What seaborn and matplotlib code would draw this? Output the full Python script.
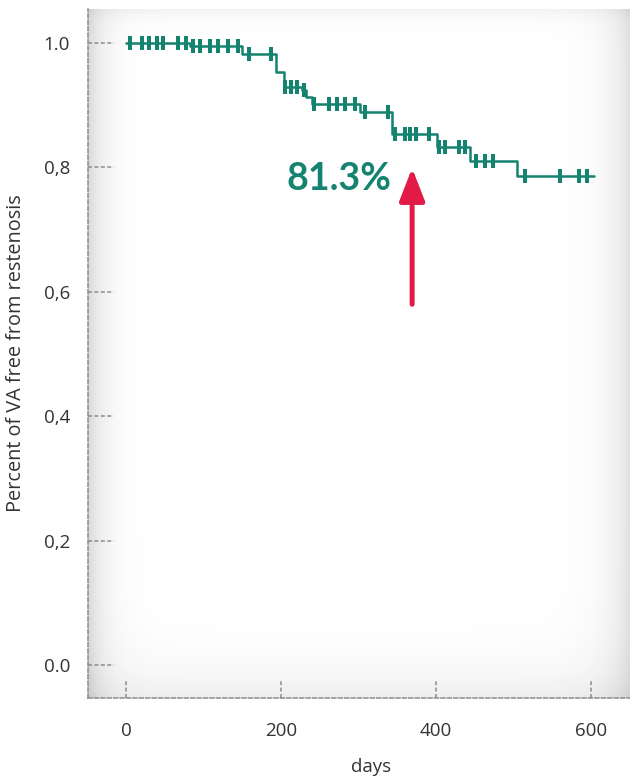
import numpy as np
import pandas as pd
import matplotlib
matplotlib.use("Agg")
import matplotlib.pyplot as plt
import matplotlib.transforms as mtransforms
import seaborn as sns

# Kaplan-Meier estimate: times where the survival level changes, and the level after each
event_days = [0, 82, 150, 194, 204, 227, 232, 240, 302, 343, 401, 444, 504, 603]
survival = [1.0, 0.995, 0.982, 0.953, 0.930, 0.924, 0.914, 0.902, 0.889, 0.854, 0.833, 0.810, 0.786, 0.786]

# censored observations (days)
censored_days = [5, 20, 30, 40, 48, 67, 78,
                 86, 95, 108, 119, 132, 145,
                 159, 187,
                 205, 213, 220, 230,
                 243, 262, 272, 283, 295,
                 308, 338,
                 347, 360, 366, 374, 391,
                 404, 412, 430, 437,
                 452, 463, 473,
                 515, 560, 584, 594]

y_ticks = [0.0, 0.2, 0.4, 0.6, 0.8, 1.0]
y_tick_labels = ["0.0", "0,2", "0,4", "0,6", "0,8", "1.0"]
x_ticks = [0, 200, 400, 600]
x_tick_labels = ["0", "200", "400", "600"]

highlight_day = 369
highlight_text = "81.3%"

TEAL = "#14836f"
RED = "#e11a48"
GRID = "#8c8c8c"
TEXT = "#333333"

sns.set_theme(style="white")
plt.rcParams["font.family"] = ["Open Sans", "DejaVu Sans"]

fig = plt.figure(figsize=(6.3, 7.78), dpi=100)
ax = fig.add_axes([88 / 630, 80 / 778, 542 / 630, 689 / 778])
ax.set_xlim(-49, 650)
ax.set_ylim(-0.053, 1.0547)

# soft grey vignette behind the plot area
H, W = 689, 542
yy, xx = np.mgrid[0:H, 0:W]
shade = (0.15 * np.exp(-xx / 16.0) + 0.12 * np.exp(-(W - 1 - xx) / 20.0)
         + 0.07 * np.exp(-(H - 1 - yy) / 30.0) + 0.05 * np.exp(-yy / 10.0))
img = np.clip(1 - shade, 0, 1)
ax.imshow(img, cmap="gray", vmin=0, vmax=1, extent=(0, 1, 0, 1),
          transform=ax.transAxes, aspect="auto", zorder=0, interpolation="bilinear")

km = pd.DataFrame({"days": event_days, "survival": survival})
sns.lineplot(data=km, x="days", y="survival", drawstyle="steps-post",
             estimator=None, sort=True, color=TEAL, linewidth=1.8, ax=ax, zorder=3)

idx = np.searchsorted(event_days, censored_days, side="right") - 1
cens = pd.DataFrame({"days": censored_days,
                     "survival": np.asarray(survival)[idx]})
sns.scatterplot(data=cens, x="days", y="survival", marker="|", s=115,
                linewidth=2.9, color=TEAL, ax=ax, zorder=4)

# highlighted estimate with arrow
ax.annotate("", xy=(highlight_day, 0.799), xytext=(highlight_day, 0.580),
            arrowprops=dict(arrowstyle="-|>,head_length=0.9,head_width=0.35",
                            color=RED, lw=3.6, mutation_scale=22,
                            shrinkA=0, shrinkB=0), zorder=5)
ax.text(275, 0.781, highlight_text, color=TEAL, fontsize=27, fontweight="bold",
        family=["Lato", "DejaVu Sans"], ha="center", va="center", zorder=5)

# dashed axis lines and inward dashed ticks
for side in ["top", "right"]:
    ax.spines[side].set_visible(False)
for side in ["left", "bottom"]:
    ax.spines[side].set_visible(True)
    ax.spines[side].set_color(GRID)
    ax.spines[side].set_linewidth(1.1)
    ax.spines[side].set_linestyle((0, (2.6, 1.6)))
    ax.spines[side].set_zorder(6)

ytr = mtransforms.blended_transform_factory(ax.transAxes, ax.transData)
for t in y_ticks:
    ax.plot([0, 26 / W], [t, t], transform=ytr, color=GRID, lw=1.1,
            ls=(0, (2.6, 1.6)), zorder=2, clip_on=False)
xtr = mtransforms.blended_transform_factory(ax.transData, ax.transAxes)
for t in x_ticks:
    ax.plot([t, t], [0, 17 / H], transform=xtr, color=GRID, lw=1.1,
            ls=(0, (2.6, 1.6)), zorder=2, clip_on=False)

ax.set_yticks(y_ticks)
ax.set_yticklabels(y_tick_labels)
ax.set_xticks(x_ticks)
ax.set_xticklabels(x_tick_labels)
ax.tick_params(axis="both", length=0, labelsize=13.5, labelcolor=TEXT)
ax.tick_params(axis="y", pad=13)
ax.tick_params(axis="x", pad=17)

ax.set_xlabel("days", fontsize=13.5, color=TEXT)
ax.xaxis.set_label_coords((371 - 88) / W, -60 / H)
ax.set_ylabel("Percent of VA free from restenosis", fontsize=14.3, color=TEXT)
ax.yaxis.set_label_coords(-62 / W, 0.5)

fig.savefig("out.png", dpi=100)
